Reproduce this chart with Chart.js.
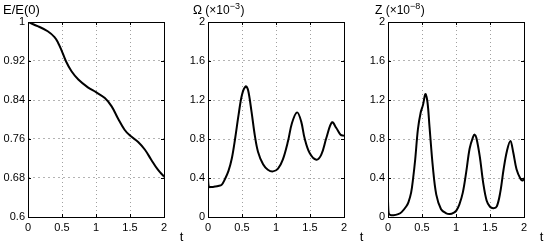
<!DOCTYPE html>
<html>
<head>
<meta charset="utf-8">
<script src="https://cdn.jsdelivr.net/npm/chart.js@4"></script>
<style>
  html, body { margin: 0; padding: 0; background: #fff; }
  body { width: 549px; height: 245px; position: relative; overflow: hidden; }
  canvas { position: absolute; top: 0; }
</style>
</head>
<body>
<canvas id="c1" width="189" height="245" style="left:0px"></canvas>
<canvas id="c2" width="189" height="245" style="left:180px"></canvas>
<canvas id="c3" width="189" height="245" style="left:360px"></canvas>
<script>
// ---- data ----
const xTickValues = [0, 0.5, 1, 1.5, 2];
const xTickLabels = ['0', '0.5', '1', '1.5', '2'];
const xAxisLabel = 't';

const eTickValues = [0.6, 0.68, 0.76, 0.84, 0.92, 1];
const eTickLabels = ['0.6', '0.68', '0.76', '0.84', '0.92', '1'];
const wzTickValues = [0, 0.4, 0.8, 1.2, 1.6, 2];
const wzTickLabels = ['0', '0.4', '0.8', '1.2', '1.6', '2'];

const eTitle = ['E/E(0)', '', ''];
const omegaTitle = ['\u03A9 (\u00D710', '\u22123', ')'];
const zTitle = ['Z (\u00D710', '\u22128', ')'];

const tE = [0, 0.15, 0.29, 0.39, 0.44, 0.49, 0.56, 0.64, 0.74, 0.88, 1.0, 1.13, 1.23, 1.32, 1.42, 1.5, 1.62, 1.72, 1.81, 1.91, 2.0];
const energy = [1.0, 0.991, 0.981, 0.969, 0.958, 0.943, 0.919, 0.899, 0.882, 0.866, 0.856, 0.844, 0.827, 0.803, 0.779, 0.767, 0.754, 0.738, 0.718, 0.697, 0.683];

const tOmega = [0, 0.012, 0.05, 0.1, 0.15, 0.2, 0.25, 0.3, 0.35, 0.4, 0.45, 0.5, 0.555, 0.59, 0.64, 0.69, 0.735, 0.81, 0.88, 0.956, 1.03, 1.1, 1.176, 1.235, 1.31, 1.37, 1.42, 1.495, 1.593, 1.666, 1.74, 1.823, 1.887, 1.95, 2.0];
const omega = [0.40, 0.31, 0.308, 0.312, 0.318, 0.33, 0.39, 0.47, 0.60, 0.81, 1.05, 1.255, 1.34, 1.30, 1.08, 0.83, 0.67, 0.54, 0.485, 0.468, 0.496, 0.588, 0.776, 0.964, 1.073, 0.981, 0.81, 0.656, 0.588, 0.639, 0.81, 0.971, 0.913, 0.844, 0.834];

const tZ = [0, 0.01, 0.03, 0.08, 0.15, 0.2, 0.27, 0.3, 0.34, 0.37, 0.4, 0.44, 0.48, 0.515, 0.55, 0.58, 0.61, 0.66, 0.71, 0.78, 0.85, 0.91, 0.97, 1.005, 1.05, 1.1, 1.15, 1.2, 1.25, 1.275, 1.3, 1.35, 1.4, 1.45, 1.5, 1.55, 1.6, 1.65, 1.7, 1.75, 1.8, 1.84, 1.89, 1.95, 1.98, 2.0];
const zeta = [0.16, 0.04, 0.022, 0.018, 0.03, 0.05, 0.11, 0.15, 0.25, 0.40, 0.59, 0.90, 1.07, 1.15, 1.26, 1.18, 0.93, 0.51, 0.23, 0.08, 0.04, 0.03, 0.045, 0.065, 0.13, 0.25, 0.46, 0.70, 0.82, 0.845, 0.81, 0.62, 0.35, 0.17, 0.105, 0.09, 0.11, 0.25, 0.49, 0.68, 0.78, 0.67, 0.49, 0.39, 0.375, 0.40];

// ---- drawing ----
const FONT = '"Liberation Sans", Arial, Helvetica, sans-serif';

const framePlugin = {
  id: 'frame',
  afterDatasetsDraw(chart, args, opts) {
    const {ctx, chartArea: a, scales} = chart;
    ctx.save();
    ctx.strokeStyle = '#000';
    ctx.lineWidth = 1;
    ctx.beginPath();
    const tl = 3;
    scales.x.ticks.forEach(t => {
      const px = Math.round(scales.x.getPixelForValue(t.value)) + 0.5;
      ctx.moveTo(px, a.bottom); ctx.lineTo(px, a.bottom - tl);
      ctx.moveTo(px, a.top); ctx.lineTo(px, a.top + tl);
    });
    scales.y.ticks.forEach(t => {
      const py = Math.round(scales.y.getPixelForValue(t.value)) + 0.5;
      ctx.moveTo(a.left, py); ctx.lineTo(a.left + tl, py);
      ctx.moveTo(a.right, py); ctx.lineTo(a.right - tl, py);
    });
    ctx.stroke();
    ctx.strokeRect(Math.round(a.left) + 0.5, Math.round(a.top) + 0.5, Math.round(a.right - a.left), Math.round(a.bottom - a.top));
    const parts = opts.title;
    let x = opts.titleX;
    const base = 14;
    ctx.fillStyle = '#000';
    ctx.textBaseline = 'alphabetic';
    ctx.textAlign = 'left';
    ctx.font = opts.titleSize + 'px ' + FONT;
    ctx.fillText(parts[0], x, base);
    x += ctx.measureText(parts[0]).width;
    if (parts[1]) {
      ctx.font = '9px ' + FONT;
      ctx.fillText(parts[1], x, base - 5);
      x += ctx.measureText(parts[1]).width;
      ctx.font = opts.titleSize + 'px ' + FONT;
      ctx.fillText(parts[2], x + 0.5, base);
    }
    ctx.font = '13px ' + FONT;
    ctx.textAlign = 'center';
    ctx.fillText(xAxisLabel, a.right + 17.5, 240.5);
    ctx.restore();
  }
};

function makeChart(id, ts, vals, yMin, yMax, yTickValues, yTickLabels, title, titleX, titleSize) {
  const points = ts.map((t, i) => ({x: t, y: vals[i]}));
  return new Chart(document.getElementById(id), {
    type: 'line',
    data: {
      datasets: [{
        data: points,
        borderColor: '#000',
        borderWidth: 2,
        pointRadius: 0,
        fill: false,
        tension: 0.35
      }]
    },
    options: {
      responsive: false,
      animation: false,
      devicePixelRatio: 1,
      events: [],
      layout: {padding: {left: 0, right: 25, top: 22, bottom: 0}},
      plugins: {
        legend: {display: false},
        tooltip: {enabled: false},
        title: {display: false},
        frame: {title: title, titleX: titleX, titleSize: titleSize}
      },
      scales: {
        x: {
          type: 'linear', min: 0, max: 2,
          afterBuildTicks: s => { s.ticks = xTickValues.map(v => ({value: v})); },
          afterFit: s => { s.height = 28; },
          ticks: {
            color: '#000', font: {family: FONT, size: 11}, padding: 4, maxRotation: 0,
            callback: (v) => xTickLabels[xTickValues.indexOf(v)]
          },
          grid: {color: '#a0a0a0', lineWidth: 1, drawTicks: false},
          border: {display: false, dash: [1, 3]}
        },
        y: {
          type: 'linear', min: yMin, max: yMax,
          afterBuildTicks: s => { s.ticks = yTickValues.map(v => ({value: v})); },
          afterFit: s => { s.width = 28; },
          ticks: {
            color: '#000', font: {family: FONT, size: 11}, padding: 3,
            callback: (v) => {
              const i = yTickValues.findIndex(tv => Math.abs(tv - v) < 1e-9);
              return i >= 0 ? yTickLabels[i] : '';
            }
          },
          grid: {color: '#b4b4b4', lineWidth: 1, drawTicks: false},
          border: {display: false, dash: [2, 3]}
        }
      }
    },
    plugins: [framePlugin]
  });
}

makeChart('c1', tE, energy, 0.6, 1, eTickValues, eTickLabels, eTitle, 3, 13);
makeChart('c2', tOmega, omega, 0, 2, wzTickValues, wzTickLabels, omegaTitle, 13, 12);
makeChart('c3', tZ, zeta, 0, 2, wzTickValues, wzTickLabels, zTitle, 15, 12);
</script>
</body>
</html>
